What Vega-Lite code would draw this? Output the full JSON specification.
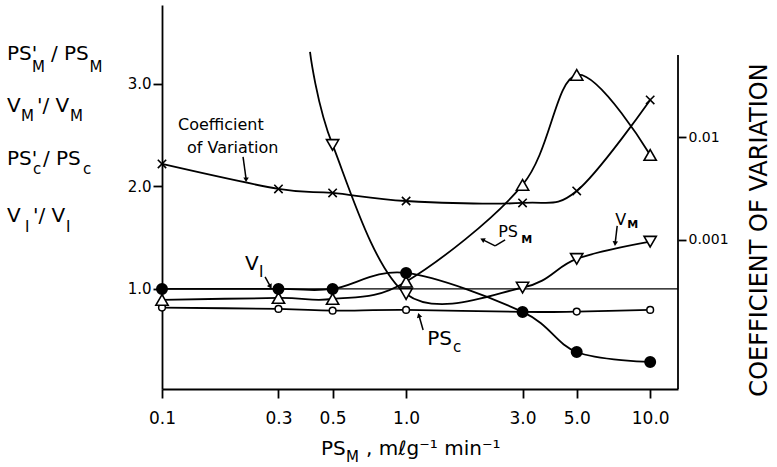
{
  "$schema": "https://vega.github.io/schema/vega-lite/v6.json",
  "width": 516,
  "height": 384,
  "autosize": {"type": "none"},
  "padding": {"left": 162, "top": 5, "right": 99, "bottom": 78},
  "background": "white",
  "config": {
    "view": {"stroke": null},
    "font": "DejaVu Sans",
    "axis": {"grid": false, "domainColor": "black", "tickColor": "black", "labelColor": "black", "titleColor": "black", "titleFontWeight": "normal", "labelFont": "DejaVu Sans", "titleFont": "DejaVu Sans", "domainWidth": 1.8, "tickWidth": 1.8}
  },
  "datasets": {
    "series": [
      {"series": "VI", "x": 0.1, "y": 1.0, "measured": true},
      {"series": "VI", "x": 0.3, "y": 1.0, "measured": true},
      {"series": "VI", "x": 0.5, "y": 1.0, "measured": true},
      {"series": "VI", "x": 1.0, "y": 1.156, "measured": true},
      {"series": "VI", "x": 3.0, "y": 0.776, "measured": true},
      {"series": "VI", "x": 5.0, "y": 0.385, "measured": true},
      {"series": "VI", "x": 10.0, "y": 0.288, "measured": true},
      {"series": "PSc", "x": 0.1, "y": 0.818, "measured": true},
      {"series": "PSc", "x": 0.3, "y": 0.805, "measured": true},
      {"series": "PSc", "x": 0.5, "y": 0.788, "measured": true},
      {"series": "PSc", "x": 1.0, "y": 0.795, "measured": true},
      {"series": "PSc", "x": 3.0, "y": 0.776, "measured": true},
      {"series": "PSc", "x": 5.0, "y": 0.779, "measured": true},
      {"series": "PSc", "x": 10.0, "y": 0.795, "measured": true},
      {"series": "PSM", "x": 0.1, "y": 0.893, "measured": true},
      {"series": "PSM", "x": 0.3, "y": 0.912, "measured": true},
      {"series": "PSM", "x": 0.5, "y": 0.902, "measured": true},
      {"series": "PSM", "x": 1.0, "y": 1.071, "measured": true},
      {"series": "PSM", "x": 3.0, "y": 2.015, "measured": true},
      {"series": "PSM", "x": 5.0, "y": 3.088, "measured": true},
      {"series": "PSM", "x": 10.0, "y": 2.307, "measured": true},
      {"series": "VM", "x": 0.404, "y": 3.312, "measured": false},
      {"series": "VM", "x": 0.5, "y": 2.405, "measured": true},
      {"series": "VM", "x": 1.0, "y": 0.951, "measured": true},
      {"series": "VM", "x": 3.0, "y": 1.013, "measured": true},
      {"series": "VM", "x": 5.0, "y": 1.293, "measured": true},
      {"series": "VM", "x": 10.0, "y": 1.461, "measured": true}
    ],
    "cv": [
      {"x": 0.1, "cv": 0.00547},
      {"x": 0.3, "cv": 0.00313},
      {"x": 0.5, "cv": 0.00286},
      {"x": 1.0, "cv": 0.00239},
      {"x": 3.0, "cv": 0.00229},
      {"x": 5.0, "cv": 0.00299},
      {"x": 10.0, "cv": 0.0229}
    ],
    "labels": [
      {"text": "PS'", "x": 0.02316, "y": 3.234, "role": "title"},
      {"text": "/ PS", "x": 0.03508, "y": 3.234, "role": "title"},
      {"text": "M", "x": 0.02932, "y": 3.117, "role": "titlesub"},
      {"text": "M", "x": 0.0505, "y": 3.117, "role": "titlesub"},
      {"text": "V", "x": 0.02316, "y": 2.727, "role": "title"},
      {"text": "M", "x": 0.02643, "y": 2.639, "role": "titlesub"},
      {"text": "'/ V", "x": 0.03074, "y": 2.727, "role": "title"},
      {"text": "M", "x": 0.04197, "y": 2.639, "role": "titlesub"},
      {"text": "PS'", "x": 0.02316, "y": 2.21, "role": "title"},
      {"text": "c", "x": 0.0296, "y": 2.122, "role": "titlesub"},
      {"text": "/ PS", "x": 0.03253, "y": 2.21, "role": "title"},
      {"text": "c", "x": 0.04746, "y": 2.122, "role": "titlesub"},
      {"text": "V", "x": 0.02316, "y": 1.649, "role": "title"},
      {"text": "I", "x": 0.02746, "y": 1.556, "role": "titlesub"},
      {"text": "'/ V", "x": 0.0296, "y": 1.649, "role": "title"},
      {"text": "I", "x": 0.04043, "y": 1.556, "role": "titlesub"},
      {"text": "Coefficient", "x": 0.1163, "y": 2.551, "role": "note"},
      {"text": "of Variation", "x": 0.1266, "y": 2.327, "role": "note"},
      {"text": "V", "x": 0.2189, "y": 1.185, "role": "title"},
      {"text": "I", "x": 0.2498, "y": 1.117, "role": "titlesub"},
      {"text": "PS", "x": 1.2195, "y": 0.4537, "role": "title"},
      {"text": "c", "x": 1.558, "y": 0.3854, "role": "titlesub"},
      {"text": "PS", "x": 2.3826, "y": 1.507, "role": "note"},
      {"text": "M", "x": 2.96, "y": 1.449, "role": "notesub"},
      {"text": "V", "x": 7.189, "y": 1.624, "role": "note"},
      {"text": "M", "x": 8.05, "y": 1.595, "role": "notesub"},
      {"text": "PS", "x": 0.4483, "y": -0.62, "role": "title"},
      {"text": "M", "x": 0.5677, "y": -0.688, "role": "titlesub"},
      {"text": ", mℓg⁻¹ min⁻¹", "x": 0.6857, "y": -0.62, "role": "title"}
    ],
    "segments": [
      {"x": 0.1, "y": 1.0, "x2": 13, "y2": 1.0, "kind": "reference"},
      {"x": 13, "y": 0.024, "x2": 13, "y2": 3.283, "kind": "frame"},
      {"x": 0.2148, "y": 2.288, "x2": 0.221, "y2": 2.073, "kind": "arrow"},
      {"x": 0.2644, "y": 1.117, "x2": 0.2771, "y2": 1.029, "kind": "arrow"},
      {"x": 1.1742, "y": 0.6, "x2": 1.1307, "y2": 0.7366, "kind": "arrow"},
      {"x": 2.545, "y": 1.478, "x2": 2.316, "y2": 1.4195, "kind": "arrow"},
      {"x": 2.316, "y": 1.4195, "x2": 2.068, "y2": 1.478, "kind": "arrow"},
      {"x": 7.326, "y": 1.6146, "x2": 7.189, "y2": 1.449, "kind": "arrow"}
    ],
    "heads": [
      {"x": 0.221, "y": 2.073, "heading": 180},
      {"x": 0.2771, "y": 1.029, "heading": 151},
      {"x": 1.1307, "y": 0.7366, "heading": 344},
      {"x": 2.068, "y": 1.478, "heading": 297},
      {"x": 7.189, "y": 1.449, "heading": 185}
    ]
  },
  "resolve": {"scale": {"y": "independent"}, "axis": {"y": "independent"}},
  "layer": [
    {
      "data": {"name": "cv"},
      "encoding": {
        "x": {"field": "x", "type": "quantitative", "scale": {"type": "log", "domain": [0.1, 13], "nice": false},
          "axis": {"values": [0.1, 0.3, 0.5, 1, 3, 5, 10], "format": ".1f", "labelFontSize": 17, "tickSize": 9, "labelPadding": 12, "labelFlush": false, "labelOverlap": false, "title": null}},
        "y": {"field": "cv", "type": "quantitative", "scale": {"type": "log", "domain": [0.0000357, 0.1914], "nice": false},
          "axis": {"orient": "right", "values": [0.001, 0.01], "format": ".3~f", "labelFontSize": 14, "tickSize": 8, "labelPadding": 2, "domain": false,
            "title": "COEFFICIENT OF VARIATION", "titleFontSize": 24, "titleAngle": 270, "titleX": 88, "titleY": 224.5, "titleAlign": "center", "titleBaseline": "alphabetic"}}
      },
      "layer": [
        {"mark": {"type": "line", "interpolate": "cardinal", "color": "black", "strokeWidth": 1.8}},
        {"mark": {"type": "point", "shape": "M-1,-1L1,1M1,-1L-1,1", "filled": false, "stroke": "black", "strokeWidth": 1.6, "size": 70, "opacity": 1}}
      ]
    },
    {
      "encoding": {
        "x": {"field": "x", "type": "quantitative", "scale": {"type": "log", "domain": [0.1, 13], "nice": false}},
        "y": {"field": "y", "type": "quantitative", "scale": {"domain": [0.024, 3.77], "nice": false, "zero": false},
          "axis": {"orient": "left", "values": [1, 2, 3], "format": ".1f", "labelFontSize": 15, "tickSize": 9, "labelPadding": 2, "title": null}}
      },
      "layer": [
        {"data": {"name": "segments"}, "transform": [{"filter": "datum.kind == 'reference'"}], "mark": {"type": "rule", "color": "black", "strokeWidth": 1.3},
          "encoding": {"x2": {"field": "x2"}, "y2": {"field": "y2"}}},
        {"data": {"name": "segments"}, "transform": [{"filter": "datum.kind == 'frame'"}], "mark": {"type": "rule", "color": "black", "strokeWidth": 1.8},
          "encoding": {"x2": {"field": "x2"}, "y2": {"field": "y2"}}},
        {"data": {"name": "series"}, "mark": {"type": "line", "interpolate": "cardinal", "color": "black", "strokeWidth": 1.8},
          "encoding": {"detail": {"field": "series"}}},
        {"data": {"name": "series"}, "transform": [{"filter": "datum.series == 'PSc'"}],
          "mark": {"type": "point", "shape": "circle", "filled": true, "fill": "white", "stroke": "black", "strokeWidth": 1.5, "size": 45, "opacity": 1}},
        {"data": {"name": "series"}, "transform": [{"filter": "datum.series == 'PSM'"}],
          "mark": {"type": "point", "shape": "triangle-up", "filled": true, "fill": "white", "stroke": "black", "strokeWidth": 1.6, "size": 150, "opacity": 1}},
        {"data": {"name": "series"}, "transform": [{"filter": "datum.series == 'VM' && datum.measured"}],
          "mark": {"type": "point", "shape": "triangle-down", "filled": true, "fill": "white", "stroke": "black", "strokeWidth": 1.6, "size": 150, "opacity": 1}},
        {"data": {"name": "series"}, "transform": [{"filter": "datum.series == 'VI'"}],
          "mark": {"type": "point", "shape": "circle", "filled": true, "fill": "black", "stroke": "black", "size": 100, "opacity": 1}},
        {"data": {"name": "segments"}, "transform": [{"filter": "datum.kind == 'arrow'"}], "mark": {"type": "rule", "color": "black", "strokeWidth": 1.5},
          "encoding": {"x2": {"field": "x2"}, "y2": {"field": "y2"}}},
        {"data": {"name": "heads"}, "mark": {"type": "point", "shape": "triangle", "filled": true, "color": "black", "size": 30, "opacity": 1},
          "encoding": {"angle": {"field": "heading", "type": "quantitative", "scale": null}}},
        {"data": {"name": "labels"}, "transform": [{"filter": "datum.role == 'title'"}],
          "mark": {"type": "text", "align": "left", "baseline": "alphabetic", "fontSize": 20, "color": "black", "font": "DejaVu Sans"},
          "encoding": {"text": {"field": "text"}}},
        {"data": {"name": "labels"}, "transform": [{"filter": "datum.role == 'titlesub'"}],
          "mark": {"type": "text", "align": "left", "baseline": "alphabetic", "fontSize": 15, "color": "black", "font": "DejaVu Sans"},
          "encoding": {"text": {"field": "text"}}},
        {"data": {"name": "labels"}, "transform": [{"filter": "datum.role == 'note'"}],
          "mark": {"type": "text", "align": "left", "baseline": "alphabetic", "fontSize": 16, "color": "black", "font": "DejaVu Sans"},
          "encoding": {"text": {"field": "text"}}},
        {"data": {"name": "labels"}, "transform": [{"filter": "datum.role == 'notesub'"}],
          "mark": {"type": "text", "align": "left", "baseline": "alphabetic", "fontSize": 11, "fontWeight": "bold", "color": "black", "font": "DejaVu Sans"},
          "encoding": {"text": {"field": "text"}}}
      ]
    }
  ]
}
